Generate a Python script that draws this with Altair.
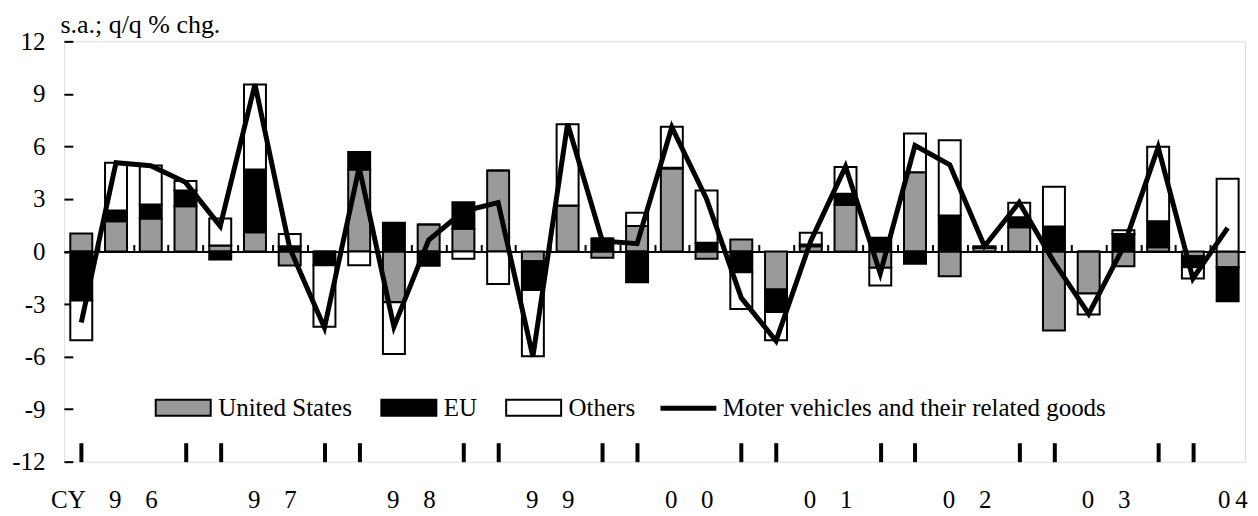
import altair as alt
import pandas as pd

quarters = ["96Q1", "96Q2", "96Q3", "96Q4", "97Q1", "97Q2", "97Q3", "97Q4",
            "98Q1", "98Q2", "98Q3", "98Q4", "99Q1", "99Q2", "99Q3", "99Q4",
            "00Q1", "00Q2", "00Q3", "00Q4", "01Q1", "01Q2", "01Q3", "01Q4",
            "02Q1", "02Q2", "02Q3", "02Q4", "03Q1", "03Q2", "03Q3", "03Q4",
            "04Q1", "04Q2"]

us = [1.03, 1.73, 1.89, 2.59, 0.34, 1.10, -0.80, 0.00, 4.69, -2.90, 1.54, 1.30,
      4.63, -0.55, 2.63, -0.36, 1.45, 4.74, -0.42, 0.69, -2.17, 0.30, 2.65, -0.93,
      4.53, -1.41, 0.20, 1.39, -4.51, -2.40, -0.84, 0.25, -0.27, -0.90]
eu = [-2.80, 0.61, 0.80, 0.90, -0.46, 3.59, 0.30, -0.78, 0.99, 1.64, -0.82, 1.52,
      0.00, -1.65, 0.00, 0.74, -1.75, 0.05, 0.50, -1.18, -1.28, 0.10, 0.65, 0.78,
      -0.70, 2.06, 0.05, 0.57, 1.43, 0.00, 1.00, 1.48, -0.63, -1.94]
others = [-2.27, 2.73, 2.22, 0.53, 1.55, 4.85, 0.70, -3.52, -0.78, -2.95, 0.00, -0.42,
          -1.85, -3.78, 4.63, 0.00, 0.76, 2.33, 2.99, -2.10, -1.62, 0.67, 1.52, -1.01,
          2.21, 4.30, 0.05, 0.82, 2.27, -1.20, 0.22, 4.25, -0.64, 4.15]
motor = [-4.05, 5.07, 4.90, 3.95, 1.45, 9.55, 0.20, -4.35, 4.80, -4.30, 0.65, 2.30,
         2.80, -6.00, 7.30, 0.60, 0.45, 7.10, 3.00, -2.65, -5.10, 0.60, 4.85, -1.25,
         6.05, 4.95, 0.30, 2.80, -0.60, -3.56, 0.25, 5.95, -1.54, 1.35]

series_names = ["United States", "EU", "Others"]
series_colors = ["#9a9a9a", "#000000", "#ffffff"]
line_name = "Moter vehicles and their related goods"

y_ticks = [-12, -9, -6, -3, 0, 3, 6, 9, 12]
# quarter index of the year-boundary tick marks along the bottom
year_tick_idx = [0, 3, 4, 7, 8, 11, 12, 15, 16, 19, 20, 23, 24, 27, 28, 31, 32]
year_labels = ["CY", "9\u2002 \u20096", "9\u2002 \u20097", "9\u2002 \u20098", "9\u2002 \u20099",
               "0\u2002 \u20090", "0\u2002 \u20091", "0\u2002 \u20092", "0\u2002 \u20093", "0\u20094"]
year_label_pos = [-0.37, 1.5, 5.5, 9.5, 13.5, 17.5, 21.5, 25.5, 29.5, 33.15]

FONT = "Liberation Serif"
FS = 25
W, H = 1183, 421

n = len(quarters)
rows = []
for i in range(n):
    for k, (name, vals) in enumerate(zip(series_names, [us, eu, others])):
        rows.append({"idx": i, "quarter": quarters[i], "series": name, "value": vals[i], "order": k})
bar_df = pd.DataFrame(rows)
line_df = pd.DataFrame({"idx": list(range(n)), "quarter": quarters, "value": motor,
                        "name": [line_name] * n})
lab_df = pd.DataFrame({"pos": year_label_pos, "label": year_labels,
                       "base": [y_ticks[0]] * len(year_labels)})

x_scale = alt.Scale(domain=[-0.5, n - 0.5], nice=False, zero=False, padding=0)
y_scale = alt.Scale(domain=[y_ticks[0], y_ticks[-1]], nice=False, zero=False, padding=0)

boundaries = [i + 0.5 for i in range(n - 1)]

bars = alt.Chart(bar_df).mark_bar(size=22, stroke="black", strokeWidth=2).encode(
    x=alt.X("idx:Q", scale=x_scale,
            axis=alt.Axis(orient="top", offset=-H / 2, values=boundaries, labels=False,
                          tickSize=7, tickWidth=2, tickColor="black", domain=True,
                          domainWidth=2, domainColor="black", grid=False, title=None)),
    y=alt.Y("value:Q", stack="zero", scale=y_scale,
            axis=alt.Axis(orient="left", values=y_ticks, tickSize=0, labelPadding=19,
                          labelExpr="'' + datum.value",
                          labelFont=FONT, labelFontSize=FS, labelColor="black",
                          domain=False, grid=False, title="s.a.; q/q % chg.",
                          titleAngle=0, titleAlign="left", titleBaseline="middle",
                          titleX=-4, titleY=-17, titleFont=FONT, titleFontSize=26,
                          titleFontWeight="normal", titleColor="black")),
    fill=alt.Fill("series:N", sort=series_names,
                  scale=alt.Scale(domain=series_names, range=series_colors),
                  legend=alt.Legend(orient="none", legendX=92, legendY=350, direction="horizontal",
                                    title=None, symbolType="M-1.72,-0.5H1.72V0.5H-1.72Z",
                                    symbolSize=1024, symbolStrokeColor="black",
                                    symbolStrokeWidth=2, symbolOffset=10.5, labelOffset=18,
                                    labelFont=FONT, labelFontSize=FS, labelColor="black",
                                    labelLimit=0, columnPadding=24, padding=0)),
    order=alt.Order("order:Q"),
)

line = alt.Chart(line_df).mark_line(strokeWidth=5).encode(
    x=alt.X("idx:Q", scale=x_scale,
            axis=alt.Axis(orient="bottom", offset=-19, values=year_tick_idx, labels=False,
                          tickSize=19, tickWidth=4, tickColor="black", domain=False,
                          grid=False, title=None)),
    y=alt.Y("value:Q", scale=y_scale,
            axis=alt.Axis(orient="right", offset=-W, values=y_ticks, labels=False,
                          tickSize=9, tickWidth=2, tickColor="black", domain=False,
                          grid=False, title=None)),
    stroke=alt.Stroke("name:N", scale=alt.Scale(domain=[line_name], range=["black"]),
                      legend=alt.Legend(orient="none", legendX=595, legendY=337, title=None,
                                        symbolType="stroke", symbolSize=3136,
                                        symbolStrokeWidth=5, labelOffset=4,
                                        labelFont=FONT, labelFontSize=FS, labelColor="black",
                                        labelLimit=0, padding=0)),
)

labels = alt.Chart(lab_df).mark_text(font=FONT, fontSize=FS, baseline="middle",
                                     align="center", dy=38, color="black").encode(
    x=alt.X("pos:Q", scale=x_scale, axis=None),
    y=alt.Y("base:Q", scale=y_scale, axis=None),
    text="label:N",
)

chart = alt.layer(bars, line, labels).resolve_axis(x="independent", y="independent").properties(
    width=W, height=H,
    autosize=alt.AutoSizeParams(type="none"),
    padding={"left": 56, "top": 33, "right": 5, "bottom": 52},
).configure_view(stroke="black", strokeWidth=2).configure(background="white")

chart.save("out.html", embed_options={"renderer": "svg", "actions": False})
